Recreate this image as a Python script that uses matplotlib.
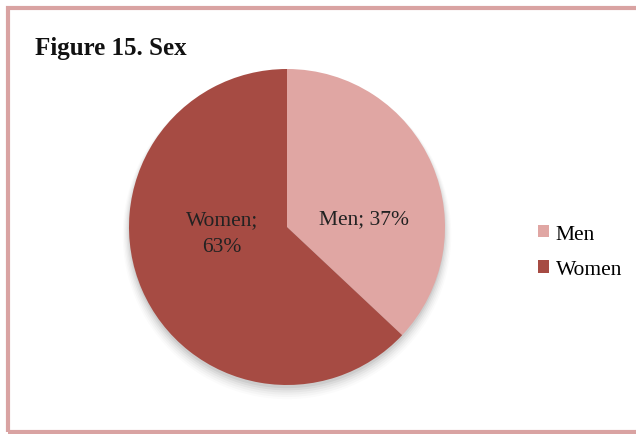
import numpy as np
import matplotlib
matplotlib.use("Agg")
import matplotlib.pyplot as plt
from matplotlib.patches import Circle, Rectangle

# data
categories = ["Men", "Women"]
shares = [37, 63]
colors = ["#E0A6A3", "#A64B43"]
title = "Figure 15. Sex"

plt.rcParams['font.family'] = ['Liberation Serif', 'DejaVu Serif']

fig = plt.figure(figsize=(6.36, 4.35), dpi=100)
W, H = 636, 435

# pink frame round the chart area
fig.patches.append(Rectangle((8 / W, 2 / H), 1.2, (433 - 7) / H - 2 / H,
                             transform=fig.transFigure, fill=False,
                             edgecolor="#D9A3A2", linewidth=3))

# pie axes: centre (287, 228) px, radius 158 px
cx, cy, r = 287, 228, 158
ax = fig.add_axes([(cx - r) / W, (H - cy - r) / H, 2 * r / W, 2 * r / H])
ax.axis("off")

# soft shadow under the pie
for i, a in enumerate(np.linspace(0.05, 0.015, 6)):
    c = Circle((0, -0.02 - 0.006 * i), 1.0 + 0.008 * i,
               facecolor="black", alpha=a, edgecolor="none", zorder=0)
    c.set_clip_on(False)
    ax.add_patch(c)

wedges, _ = ax.pie(shares, colors=colors, startangle=90, counterclock=False,
                   radius=1.0, wedgeprops=dict(linewidth=0))
for w in wedges:
    w.set_zorder(2)
ax.set_xlim(-1, 1)
ax.set_ylim(-1, 1)
ax.set_aspect("equal")

ax.text(0.49, 0.05, "%s; %d%%" % (categories[0], shares[0]), ha="center", va="center",
        fontsize=15.5, color="#222222", zorder=3)
ax.text(-0.41, -0.04, "%s;\n%d%%" % (categories[1], shares[1]), ha="center", va="center",
        fontsize=15.5, color="#222222", zorder=3, linespacing=1.55)

fig.text(35 / W, 1 - 48 / H, title, fontsize=18, fontweight="bold",
         ha="left", va="center", color="#111111")

# legend
leg = fig.legend(wedges, categories, loc="center left",
                 bbox_to_anchor=(519 / W, 1 - 253 / H), frameon=False,
                 fontsize=15.5, handlelength=0.5, handleheight=0.5,
                 handletextpad=0.3, labelspacing=0.75)

fig.savefig("out.png", dpi=100)
